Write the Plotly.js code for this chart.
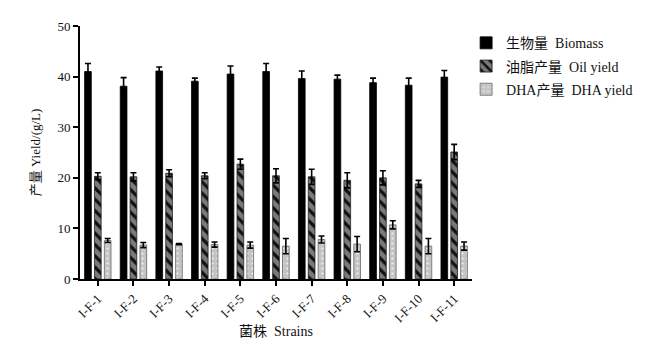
<!DOCTYPE html>
<html><head><meta charset="utf-8">
<script src="https://cdn.plot.ly/plotly-3.0.1.min.js"></script>
<style>html,body{margin:0;padding:0;background:#fff}</style>
</head><body>
<div id="chart" style="width:650px;height:354px"></div>
<script>
const strains = ["I-F-1","I-F-2","I-F-3","I-F-4","I-F-5","I-F-6","I-F-7","I-F-8","I-F-9","I-F-10","I-F-11"];
const biomass = [41.0,38.1,41.1,39.1,40.5,41.0,39.6,39.5,38.8,38.3,39.9];
const biomassErr = [1.6,1.7,0.8,0.6,1.6,1.6,1.5,0.8,0.9,1.4,1.3];
const oil = [20.3,20.2,20.9,20.4,22.7,20.4,20.2,19.5,20.0,18.8,25.1];
const oilErr = [0.7,0.8,0.7,0.6,1.0,1.4,1.5,1.5,1.4,0.7,1.5];
const dha = [7.6,6.7,6.9,6.8,6.7,6.5,7.8,6.9,10.7,6.5,6.5];
const dhaErr = [0.4,0.5,0.1,0.5,0.6,1.5,0.7,1.5,0.8,1.5,0.8];
const names = ["生物量  Biomass","油脂产量  Oil yield","DHA产量  DHA yield"];

const FONT = "Liberation Serif, Times New Roman, Noto Sans CJK SC, serif";
function err(a){return {type:'data',array:a,visible:true,color:'#000',thickness:1.6,width:3};}
const traces = [
  {type:'bar',x:strains,y:biomass,name:names[0],legendgroup:'a',error_y:err(biomassErr),
   marker:{color:'#000',line:{color:'#000',width:0.8}}},
  {type:'bar',x:strains,y:oil,name:names[1],legendgroup:'b',error_y:err(oilErr),
   marker:{color:'#7a7a7a',line:{color:'#222',width:0.8},
     pattern:{shape:'\\',fgcolor:'#111',bgcolor:'#7a7a7a',size:8,solidity:0.4}}},
  {type:'bar',x:strains,y:dha,name:names[2],legendgroup:'c',error_y:err(dhaErr),
   marker:{color:'#c4c4c4',line:{color:'#666',width:0.8},
     pattern:{shape:'.',fgcolor:'#f2f2f2',bgcolor:'#c4c4c4',size:5,solidity:0.15}}}
];
const layout = {
  width:650,height:354,
  margin:{l:80,r:162,t:26,b:75},
  paper_bgcolor:'#fff',plot_bgcolor:'#fff',
  barmode:'group',bargap:0.17,bargroupgap:0.32,
  font:{family:FONT,size:13,color:'#111'},
  showlegend:true,
  legend:{x:0.985,y:0.995,xanchor:'left',yanchor:'top',traceorder:'grouped',tracegroupgap:2,
    font:{family:FONT,size:14,color:'#111'},bgcolor:'rgba(0,0,0,0)'},
  xaxis:{showline:true,linecolor:'#000',linewidth:2,ticks:'outside',ticklen:5,tickwidth:2,tickcolor:'#000',
    tickangle:-45,tickfont:{family:FONT,size:13},showgrid:false,zeroline:false,
    title:{text:'菌株  Strains',font:{family:FONT,size:14},standoff:2}},
  yaxis:{range:[0,50],dtick:10,showline:true,linecolor:'#000',linewidth:2,ticks:'outside',ticklen:5,tickwidth:2,tickcolor:'#000',
    tickfont:{family:FONT,size:13},showgrid:false,zeroline:false,
    title:{text:'产量 Yield/(g/L)',font:{family:FONT,size:13},standoff:14}}
};
Plotly.newPlot('chart',traces,layout,{displayModeBar:false,staticPlot:true});
</script>
</body></html>
